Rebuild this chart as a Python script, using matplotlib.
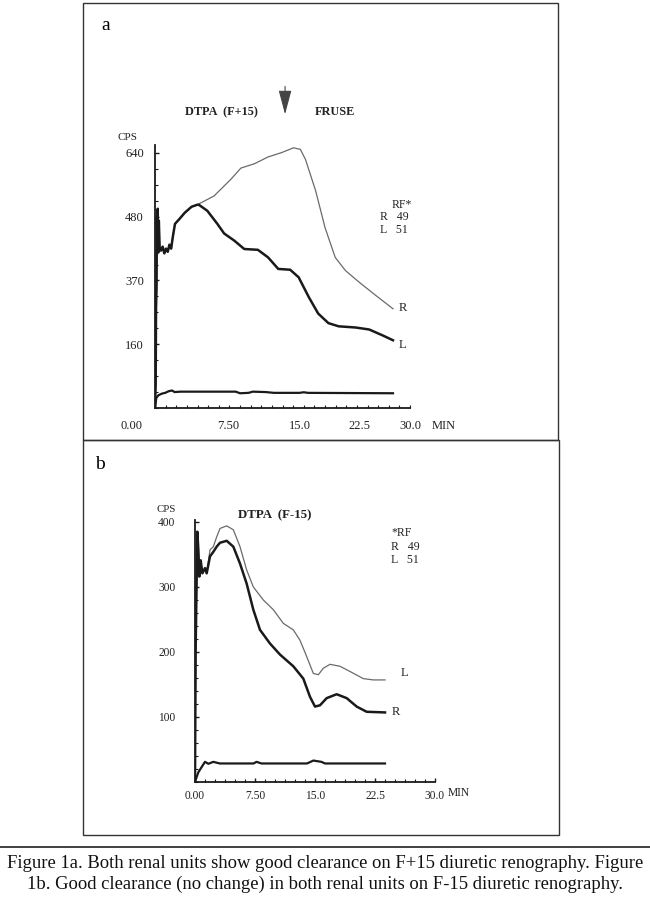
import numpy as np
import matplotlib
matplotlib.use("Agg")
import matplotlib.pyplot as plt
from matplotlib.patches import Rectangle
from matplotlib.lines import Line2D
from matplotlib.ticker import MultipleLocator

plt.rcParams['font.family'] = ['Liberation Serif', 'DejaVu Serif']

# ---- panel a (DTPA F+15) ----
t_a_early = [0.0, 0.08, 0.12, 0.18, 0.22, 0.28, 0.32, 0.38, 0.45, 0.55, 0.7, 0.9,
             1.1, 1.3, 1.5, 1.7, 1.9, 2.1, 2.35, 2.9, 3.5, 4.3, 4.96]
v_a_early = [0, 60, 250, 300, 480, 420, 500, 390, 470, 400, 395, 405,
             388, 400, 392, 410, 400, 430, 462, 475, 490, 505, 510]
t_a_R = [6.94, 8.93, 10.1, 11.7, 13.3, 14.9, 16.3, 17.1, 17.7, 18.9, 20.0, 21.2,
         22.4, 24.0, 26.0, 28.0]
v_a_R = [532, 574, 602, 613, 630, 641, 653, 649, 624, 545, 453, 378,
         345, 316, 282, 249]
t_a_L = [5.16, 6.15, 7.34, 8.13, 9.33, 10.5, 12.1, 13.3, 14.5, 15.9, 16.9, 18.1,
         19.2, 20.4, 21.6, 23.6, 25.2, 26.8, 28.0]
v_a_L = [510, 495, 462, 438, 420, 399, 397, 378, 349, 347, 328, 278,
         237, 213, 205, 202, 197, 182, 170]
t_a_bg = [0.0, 0.15, 0.4, 0.8, 1.2, 1.6, 2.0, 2.3, 3.0, 9.5, 10.0, 11.0, 11.5,
          13.0, 14.0, 17.0, 17.5, 18.0, 28.0]
v_a_bg = [0, 25, 32, 36, 38, 42, 44, 40, 41, 41, 37, 38, 41,
          40, 38, 38, 39.5, 38, 37]
yticks_a = [160, 320, 480, 640]
ytick_labels_a = ["160", "370", "480", "640"]
xtick_labels_a = ["0.00", "7.50", "15.0", "22.5", "30.0"]
xtick_pos_a = [-2.8, 8.6, 17.0, 24.1, 30.0]
frusemide_t = 15.3

# ---- panel b (DTPA F-15) ----
t_b_early = [0.0, 0.08, 0.21, 0.29, 0.42, 0.54, 0.71, 0.92, 1.25, 1.46]
v_b_early = [0, 203, 316, 385, 357, 316, 341, 321, 329, 321]
t_b_L = [1.875, 2.29, 2.71, 3.125, 3.96, 4.79, 5.625, 6.46, 7.29, 8.54, 9.79,
         11.04, 12.29, 13.125, 13.96, 14.79, 15.42, 16.04, 16.875, 18.125,
         19.375, 21.04, 22.29, 23.75]
v_b_L = [357, 362, 377, 390, 394, 388, 362, 326, 300, 280, 265,
         244, 234, 218, 193, 167, 165, 175, 181, 178,
         170, 159, 157, 157]
t_b_R = [1.875, 2.29, 2.71, 3.125, 3.96, 4.79, 5.625, 6.46, 7.29, 8.125, 9.375,
         10.625, 12.29, 13.54, 14.375, 15.0, 15.625, 16.46, 17.71, 18.96,
         20.21, 21.46, 23.75]
v_b_R = [347, 354, 362, 368, 371, 362, 336, 305, 265, 234, 213,
         196, 178, 159, 131, 116, 118, 129, 135, 129,
         116, 108, 107]
t_b_bg = [0.0, 0.13, 0.42, 0.83, 1.25, 1.67, 2.29, 3.1, 7.3, 7.7, 8.3,
          14.0, 14.8, 15.8, 16.25, 23.75]
v_b_bg = [0, 5, 15, 23, 31, 28, 31, 28.5, 28.5, 31, 28.5,
          28.5, 33, 31, 28.5, 28.5]
yticks_b = [100, 200, 300, 400]
ytick_labels_b = ["100", "200", "300", "400"]
xticks_b = [0, 7.5, 15, 22.5, 30]
xtick_labels_b = ["0.00", "7.50", "15.0", "22.5", "30.0"]

caption = ("Figure 1a. Both renal units show good clearance on F+15 diuretic renography. Figure\n"
           "1b. Good clearance (no change) in both renal units on F-15 diuretic renography.")

W, H = 650, 898
fig = plt.figure(figsize=(W / 100, H / 100), dpi=100)


def fx(px):
    return px / W


def fy(py):
    return 1 - py / H


ink = '#1a1a1a'
grey = '#6a6a6a'
txt = '#222222'

# panel frames
fig.add_artist(Rectangle((fx(83), fy(440)), fx(558) - fx(83), fy(3) - fy(440),
                         fill=False, lw=1.0, ec='#333333'))
fig.add_artist(Rectangle((fx(83), fy(835)), fx(559) - fx(83), fy(440) - fy(835),
                         fill=False, lw=1.0, ec='#333333'))
fig.add_artist(Line2D([0, 1], [fy(847), fy(847)], lw=1.3, color='#333333'))


def style_axes(ax, minor_step, lsize):
    for s in ['top', 'right']:
        ax.spines[s].set_visible(False)
    for s in ['left', 'bottom']:
        ax.spines[s].set_linewidth(1.3)
        ax.spines[s].set_color(ink)
    ax.yaxis.set_minor_locator(MultipleLocator(minor_step))
    ax.xaxis.set_minor_locator(MultipleLocator(1.25))
    ax.tick_params(which='both', direction='in', color=ink, labelsize=lsize,
                   labelcolor=txt)
    ax.tick_params(which='major', length=3, width=1)
    ax.tick_params(which='minor', length=2, width=0.8)
    ax.patch.set_alpha(0)


# ---- panel a ----
ax1 = fig.add_axes([fx(155), fy(408), fx(410) - fx(155), fy(145) - fy(408)])
ax1.set_xlim(0, 30)
ax1.set_ylim(0, 660)
style_axes(ax1, 40, 9)
ax1.plot(t_a_early + t_a_R, v_a_early + v_a_R, color=grey, lw=0.9)
ax1.plot(t_a_early + t_a_L, v_a_early + v_a_L, color=ink, lw=1.8)
ax1.plot(t_a_bg, v_a_bg, color=ink, lw=1.6)
ax1.set_yticks(yticks_a)
ax1.set_yticklabels(ytick_labels_a)
ax1.tick_params(axis='y', pad=8)
ax1.set_xticks([])
for pos, lab in zip(xtick_pos_a, xtick_labels_a):
    ax1.text(pos, -45, lab, ha='center', va='center', fontsize=9,
             color=txt, clip_on=False)
ax1.text(34.0, -45, "MIN", ha='center', va='center', fontsize=9, color=txt)
# frusemide injection arrow
ax1.annotate('', xy=(frusemide_t, 737), xytext=(frusemide_t, 807),
             annotation_clip=False,
             arrowprops=dict(arrowstyle='-|>,head_length=1.5,head_width=0.4',
                             lw=0.8, color='#444444', mutation_scale=10,
                             shrinkA=0, shrinkB=0))

fig.text(fx(106), fy(25), "a", fontsize=14, ha='center', va='center')
fig.text(fx(221), fy(112), "DTPA  (F+15)", fontsize=8.8, fontweight='bold',
         ha='center', va='center', color=txt)
fig.text(fx(335), fy(112), "FRUSE", fontsize=8.8, fontweight='bold',
         ha='center', va='center', color=txt)
fig.text(fx(127), fy(138), "CPS", fontsize=8, ha='center', va='center', color=txt)
fig.text(fx(392), fy(205), "RF*", fontsize=8.5, ha='left', va='center', color=txt)
fig.text(fx(380), fy(217), "R   49", fontsize=8.5, ha='left', va='center', color=txt)
fig.text(fx(380), fy(230), "L   51", fontsize=8.5, ha='left', va='center', color=txt)
fig.text(fx(399), fy(308), "R", fontsize=9, ha='left', va='center', color=txt)
fig.text(fx(399), fy(345), "L", fontsize=9, ha='left', va='center', color=txt)

# ---- panel b ----
ax2 = fig.add_axes([fx(195), fy(782), fx(435) - fx(195), fy(520) - fy(782)])
ax2.set_xlim(0, 30)
ax2.set_ylim(0, 403)
style_axes(ax2, 20, 8.3)
ax2.plot(t_b_early + t_b_L, v_b_early + v_b_L, color=grey, lw=0.9)
ax2.plot(t_b_early + t_b_R, v_b_early + v_b_R, color=ink, lw=1.8)
ax2.plot(t_b_bg, v_b_bg, color=ink, lw=1.6)
ax2.set_yticks(yticks_b)
ax2.set_yticklabels(ytick_labels_b)
ax2.tick_params(axis='y', pad=14)
ax2.set_xticks(xticks_b)
ax2.set_xticklabels(xtick_labels_b)
ax2.tick_params(axis='x', pad=6)
ax2.text(33.0, -17, "MIN", ha='center', va='center', fontsize=8.3,
         color=txt, clip_on=False)

fig.text(fx(100), fy(464), "b", fontsize=14, ha='center', va='center')
fig.text(fx(275), fy(515), "DTPA  (F-15)", fontsize=9.3, fontweight='bold',
         ha='center', va='center', color=txt)
fig.text(fx(166), fy(510), "CPS", fontsize=7.8, ha='center', va='center', color=txt)
fig.text(fx(391), fy(533), "*RF", fontsize=8.5, ha='left', va='center', color=txt)
fig.text(fx(391), fy(547), "R   49", fontsize=8.5, ha='left', va='center', color=txt)
fig.text(fx(391), fy(560), "L   51", fontsize=8.5, ha='left', va='center', color=txt)
fig.text(fx(401), fy(673), "L", fontsize=9, ha='left', va='center', color=txt)
fig.text(fx(392), fy(712), "R", fontsize=9, ha='left', va='center', color=txt)

fig.text(0.5, fy(874), caption, fontsize=13.4, ha='center', va='center',
         linespacing=1.22, color='#111111')

fig.savefig("out.png", dpi=100)
